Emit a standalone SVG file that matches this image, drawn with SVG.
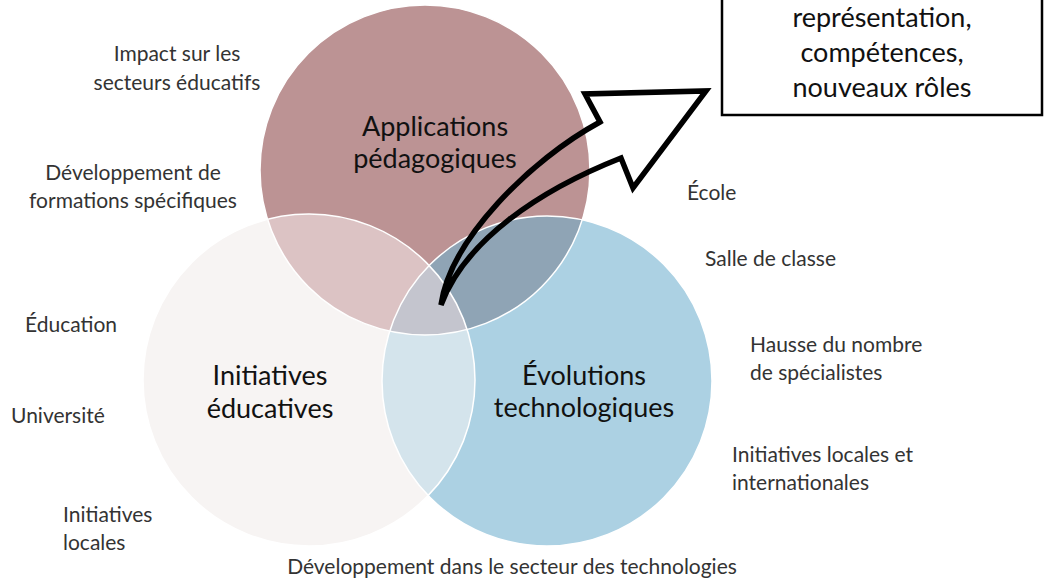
<svg xmlns="http://www.w3.org/2000/svg" width="1044" height="585" viewBox="0 0 1044 585">
<style>
.lbl{font-family:Lato,"Open Sans","Liberation Sans",sans-serif;font-size:21px;fill:#333}
.big{font-family:Lato,"Open Sans","Liberation Sans",sans-serif;font-size:27px;fill:#111}
.ring{fill:none;stroke:#fff;stroke-width:1.5}
</style>
<defs>
<clipPath id="cT"><circle cx="425" cy="170" r="165"/></clipPath>
<clipPath id="cL"><circle cx="309" cy="380" r="166"/></clipPath>
<clipPath id="cR"><circle cx="547" cy="381" r="165"/></clipPath>
</defs>
<rect width="1044" height="585" fill="#fff"/>
<g id="circles">
<circle cx="309" cy="380" r="166" fill="#f7f4f3"/>
<circle cx="425" cy="170" r="165" fill="#bc9394"/>
<circle cx="547" cy="381" r="165" fill="#acd1e3"/>
<circle cx="425" cy="170" r="165" fill="#dcc3c4" clip-path="url(#cL)"/>
<circle cx="547" cy="381" r="165" fill="#8fa4b5" clip-path="url(#cT)"/>
<circle cx="547" cy="381" r="165" fill="#d4e4ec" clip-path="url(#cL)"/>
<g clip-path="url(#cL)"><circle cx="547" cy="381" r="165" fill="#c4c5ce" clip-path="url(#cT)"/></g>
<circle class="ring" cx="309" cy="380" r="166"/>
<circle class="ring" cx="425" cy="170" r="165"/>
<circle class="ring" cx="547" cy="381" r="165"/>
</g>
<g id="node-applications"><text class="big" text-anchor="middle" x="435" y="136">Applications</text><text class="big" text-anchor="middle" x="435" y="168">pédagogiques</text></g>
<g id="node-initiatives"><text class="big" text-anchor="middle" x="270" y="385">Initiatives</text><text class="big" text-anchor="middle" x="270" y="418">éducatives</text></g>
<g id="node-evolutions"><text class="big" text-anchor="middle" x="584" y="385">Évolutions</text><text class="big" text-anchor="middle" x="584" y="417">technologiques</text></g>
<g id="node-box"><rect x="722" y="-10" width="320" height="125" fill="#fff" stroke="#000" stroke-width="2.5"/>
<text class="big" text-anchor="middle" x="882" y="27">représentation,</text><text class="big" text-anchor="middle" x="882" y="62">compétences,</text><text class="big" text-anchor="middle" x="882" y="97">nouveaux rôles</text></g>
<g id="connectors"><path d="M441,305 C450,240 530,160 600,122 L585,94 L706,91 L633,188 L621,158 C540,190 465,240 441,305 Z" fill="none" stroke="#000" stroke-width="5.5" stroke-linejoin="miter"/></g>
<g id="node-impact"><text class="lbl" text-anchor="middle" x="177" y="61">Impact sur les</text><text class="lbl" text-anchor="middle" x="177" y="90">secteurs éducatifs</text></g>
<g id="node-dev-form"><text class="lbl" text-anchor="middle" x="133" y="180">Développement de</text><text class="lbl" text-anchor="middle" x="133" y="208">formations spécifiques</text></g>
<g id="node-education"><text class="lbl" x="25" y="332">Éducation</text></g>
<g id="node-universite"><text class="lbl" x="11" y="423">Université</text></g>
<g id="node-init-locales"><text class="lbl" x="63" y="522">Initiatives</text><text class="lbl" x="63" y="550">locales</text></g>
<g id="node-ecole"><text class="lbl" x="687" y="200">École</text></g>
<g id="node-salle"><text class="lbl" x="705" y="266">Salle de classe</text></g>
<g id="node-hausse"><text class="lbl" x="750" y="352">Hausse du nombre</text><text class="lbl" x="750" y="380">de spécialistes</text></g>
<g id="node-init-intl"><text class="lbl" x="732" y="462">Initiatives locales et</text><text class="lbl" x="732" y="490">internationales</text></g>
<g id="node-dev-tech"><text class="lbl" text-anchor="middle" x="512" y="574">Développement dans le secteur des technologies</text></g>
</svg>
